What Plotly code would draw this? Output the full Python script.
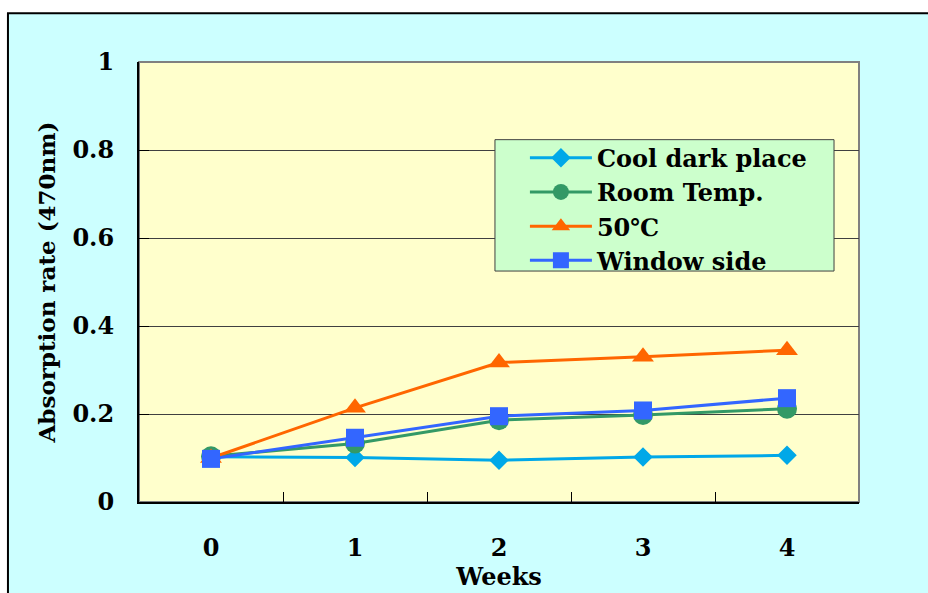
import plotly.graph_objects as go

weeks = ["0", "1", "2", "3", "4"]
cool_dark = [0.103, 0.101, 0.095, 0.102, 0.106]
room_temp = [0.104, 0.133, 0.186, 0.198, 0.212]
temp_50 = [0.100, 0.214, 0.317, 0.330, 0.345]
window_side = [0.098, 0.146, 0.195, 0.208, 0.236]

series = [
    ("Cool dark place", cool_dark, "#00a8e8", "diamond", 15),
    ("Room Temp.", room_temp, "#339966", "circle", 20),
    ("50℃", temp_50, "#ff6600", "triangle-up", 19),
    ("Window side", window_side, "#3366ff", "square", 18),
]

FONT = "DejaVu Serif"

fig = go.Figure()
for name, vals, color, symbol, size in series:
    fig.add_trace(go.Scatter(
        x=weeks, y=vals, name=name, mode="lines+markers",
        line=dict(color=color, width=3),
        marker=dict(symbol=symbol, size=size, color=color),
    ))

# outer cyan panel, yellow plot area and the green legend panel
fig.add_shape(type="rect", xref="paper", yref="paper",
              x0=-0.182, x1=1.2, y0=-0.3, y1=1.111,
              fillcolor="#ccffff", line=dict(color="black", width=2), layer="below")
fig.add_shape(type="rect", xref="paper", yref="paper",
              x0=0, x1=1, y0=0, y1=1,
              fillcolor="#ffffcc", line=dict(color="#808080", width=2), layer="below")
fig.add_shape(type="rect", xref="paper", yref="paper",
              x0=0.4944, x1=0.9653, y0=0.5249, y1=0.8235,
              fillcolor="#ccffcc", line=dict(color="#404040", width=1), layer="above")

fig.update_layout(
    width=928, height=593,
    margin=dict(l=139, r=69, t=62, b=89),
    paper_bgcolor="white",
    plot_bgcolor="rgba(0,0,0,0)",
    font=dict(family=FONT, size=24, color="black"),
    showlegend=True,
    legend=dict(
        x=0.536, y=0.8326, xanchor="left", yanchor="top",
        bgcolor="rgba(0,0,0,0)", borderwidth=0,
        font=dict(family=FONT, size=24, color="black", weight="bold"),
        itemwidth=62, tracegroupgap=0,
    ),
    xaxis=dict(
        type="category", range=[-0.5, 4.5],
        showline=True, linecolor="black", linewidth=2,
        ticks="inside", ticklen=10, tickcolor="black", tickwidth=1,
        tickson="boundaries", showgrid=False,
        tickfont=dict(family=FONT, size=24, weight="bold"),
        ticklabelstandoff=23,
        title=dict(text="Weeks", font=dict(family=FONT, size=24, weight="bold"), standoff=2),
    ),
    yaxis=dict(
        range=[0, 1], dtick=0.2,
        showline=True, linecolor="black", linewidth=2,
        ticks="inside", ticklen=10, tickcolor="black", tickwidth=1,
        showgrid=True, gridcolor="#404040", gridwidth=1,
        zeroline=False,
        tickfont=dict(family=FONT, size=24, weight="bold"),
        ticklabelstandoff=18,
        title=dict(text="Absorption rate (470nm)", font=dict(family=FONT, size=23, weight="bold"), standoff=10),
    ),
)

fig.write_html("out.html")
